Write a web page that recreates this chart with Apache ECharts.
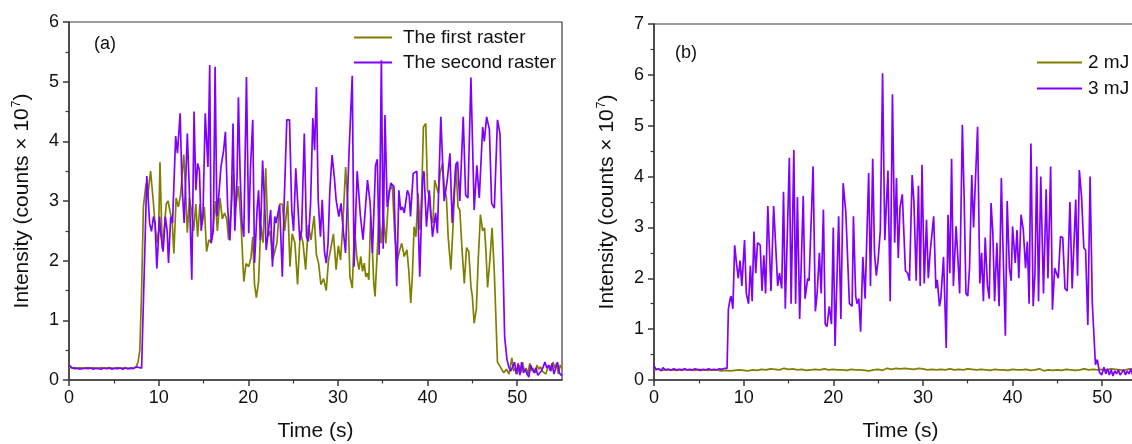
<!DOCTYPE html>
<html>
<head>
<meta charset="utf-8">
<script src="https://cdn.jsdelivr.net/npm/echarts@6/dist/echarts.min.js"></script>
<style>
html,body{margin:0;padding:0;background:#fff;}
#chart{width:1132px;height:444px;}
</style>
</head>
<body>
<div id="chart"></div>
<script>
// ---------- Data (time s, intensity ×1e7) ----------
const X_TICKS = [0, 10, 20, 30, 40, 50];
const X_MINOR = [5, 15, 25, 35, 45];
const LEGEND_A = ['The first raster', 'The second raster'];
const LEGEND_B = ['2 mJ', '3 mJ'];

const A_FIRST = [[0,0.22],[0.3,0.2],[0.6,0.21],[0.9,0.19],[1.2,0.21],[1.5,0.2],[1.8,0.2],[2.1,0.21],[2.4,0.2],[2.7,0.21],[3.0,0.19],[3.3,0.2],[3.6,0.21],[3.9,0.2],[4.2,0.2],[4.5,0.21],[4.8,0.2],[5.1,0.19],[5.4,0.21],[5.7,0.2],[6.0,0.2],[6.3,0.21],[6.6,0.19],[6.9,0.2],[7.2,0.2],[7.5,0.22],[7.7,0.3],[7.9,0.5],[8.1,1.5],[8.3,2.9],[8.6,3.3],[8.8,3.1],[9.1,3.5],[9.4,3.0],[9.6,2.6],[9.8,2.3],[10.0,2.5],[10.15,3.65],[10.4,2.2],[10.6,2.5],[10.85,2.95],[11.05,3.0],[11.3,2.8],[11.5,2.7],[11.7,2.12],[11.95,3.05],[12.2,2.9],[12.45,3.1],[12.8,3.78],[13.0,3.2],[13.2,2.47],[13.45,3.05],[13.7,2.8],[13.9,2.5],[14.15,2.95],[14.35,2.4],[14.6,2.95],[14.85,2.6],[15.1,2.9],[15.35,2.15],[15.6,2.35],[15.85,2.3],[16.1,2.6],[16.35,3.0],[16.55,2.5],[16.85,3.05],[17.1,2.7],[17.35,2.8],[17.6,2.7],[17.8,2.35],[18.05,2.8],[18.35,3.45],[18.6,2.9],[18.9,3.25],[19.2,2.6],[19.5,1.65],[19.75,1.95],[20.05,1.9],[20.3,2.05],[20.5,2.4],[20.7,1.6],[20.9,1.38],[21.15,1.65],[21.4,2.6],[21.65,2.3],[21.95,3.55],[22.2,2.4],[22.45,2.5],[22.7,2.0],[22.95,2.15],[23.2,2.3],[23.5,2.95],[23.8,2.95],[24.05,2.5],[24.4,3.0],[24.65,1.9],[24.9,2.45],[25.2,2.3],[25.5,1.6],[25.8,2.5],[26.1,2.3],[26.4,1.85],[26.7,2.6],[27.0,2.35],[27.35,2.75],[27.6,2.1],[27.85,1.95],[28.1,1.6],[28.4,1.7],[28.7,1.5],[28.95,2.0],[29.2,2.2],[29.5,2.45],[29.8,1.85],[30.05,2.25],[30.3,2.01],[30.55,2.6],[30.86,3.57],[31.1,2.96],[31.34,1.73],[31.6,1.54],[31.85,2.55],[32.1,2.07],[32.35,1.85],[32.55,2.07],[32.75,1.82],[32.95,1.96],[33.1,1.73],[33.28,1.79],[33.45,1.68],[33.65,2.74],[33.85,2.18],[34.0,1.62],[34.14,1.4],[34.4,2.18],[34.59,2.79],[34.8,2.29],[35.07,2.74],[35.35,2.29],[35.7,3.18],[36.08,3.24],[36.35,2.4],[36.64,2.01],[36.9,2.18],[37.12,2.29],[37.4,2.07],[37.7,2.18],[37.9,1.85],[38.13,1.29],[38.3,1.73],[38.5,2.57],[38.7,2.4],[38.95,3.13],[39.15,2.52],[39.35,3.13],[39.54,4.24],[39.8,4.3],[40.0,3.18],[40.2,3.07],[40.36,2.74],[40.6,2.63],[40.8,3.35],[41.0,3.38],[41.2,3.13],[41.4,3.46],[41.67,3.63],[41.9,3.18],[42.1,3.07],[42.3,2.4],[42.6,1.85],[42.85,2.6],[43.16,3.63],[43.4,2.9],[43.6,2.85],[43.85,2.18],[44.1,1.62],[44.35,2.22],[44.6,2.15],[44.85,1.55],[45.0,1.4],[45.2,0.95],[45.45,1.2],[45.65,2.0],[45.9,2.77],[46.15,2.5],[46.35,2.55],[46.5,2.2],[46.7,1.55],[46.95,2.0],[47.2,2.55],[47.45,1.8],[47.8,0.3],[48.0,0.25],[48.2,0.2],[48.5,0.12],[48.8,0.18],[49.1,0.1],[49.4,0.37],[49.6,0.15],[49.8,0.2],[50.0,0.1],[50.2,0.25],[50.4,0.12],[50.6,0.3],[50.8,0.15],[51.0,0.2],[51.2,0.1],[51.4,0.28],[51.6,0.15],[51.8,0.2],[52.0,0.12],[52.2,0.25],[52.4,0.18],[52.6,0.22],[52.8,0.15],[53.0,0.18],[53.2,0.1],[53.4,0.2],[53.6,0.25],[53.8,0.15],[54.0,0.3],[54.2,0.2],[54.4,0.28],[54.6,0.1],[54.8,0.25],[55,0.2]];

const A_SECOND = [[0,0.25],[0.3,0.21],[0.6,0.19],[0.9,0.2],[1.2,0.18],[1.5,0.19],[1.8,0.2],[2.1,0.19],[2.4,0.2],[2.7,0.18],[3.0,0.2],[3.3,0.19],[3.6,0.18],[3.9,0.2],[4.2,0.19],[4.5,0.2],[4.8,0.18],[5.1,0.2],[5.4,0.19],[5.7,0.2],[6.0,0.18],[6.3,0.2],[6.6,0.19],[6.9,0.2],[7.2,0.19],[7.5,0.22],[7.8,0.21],[8.1,0.2],[8.3,0.22],[8.5,2.4],[8.68,3.42],[9.0,2.62],[9.2,2.49],[9.43,2.74],[9.6,2.63],[9.8,1.87],[10.1,2.74],[10.25,2.43],[10.5,2.15],[10.75,2.74],[10.95,2.5],[11.1,1.96],[11.35,2.74],[11.55,2.63],[11.9,4.09],[12.1,3.8],[12.4,4.47],[12.6,3.29],[12.85,2.63],[13.2,4.13],[13.4,3.29],[13.7,1.68],[13.95,4.5],[14.15,3.18],[14.35,3.63],[14.55,3.52],[14.75,2.5],[14.95,2.79],[15.2,4.47],[15.5,3.57],[15.7,5.28],[15.85,2.29],[16.1,2.5],[16.3,5.25],[16.5,2.74],[16.7,3.07],[16.95,3.57],[17.25,3.85],[17.45,4.16],[17.7,2.9],[17.95,2.34],[18.1,2.9],[18.3,4.3],[18.5,2.5],[18.75,3.4],[18.9,4.74],[19.1,3.4],[19.3,2.63],[19.5,2.4],[19.8,5.08],[20.05,2.46],[20.25,3.57],[20.5,4.36],[20.7,1.96],[21.0,2.9],[21.15,3.18],[21.35,2.34],[21.6,3.68],[21.85,2.85],[22.0,2.18],[22.3,2.57],[22.5,2.85],[22.7,1.9],[22.95,2.74],[23.1,2.63],[23.3,2.79],[23.5,2.93],[23.8,1.73],[24.0,2.96],[24.3,4.36],[24.6,4.36],[24.85,2.85],[25.05,2.5],[25.3,3.55],[25.5,3.52],[25.75,2.34],[25.95,2.5],[26.25,4.13],[26.5,2.4],[26.7,2.32],[26.95,2.96],[27.2,4.39],[27.4,3.85],[27.6,4.91],[27.8,3.02],[28.05,2.4],[28.25,3.02],[28.5,2.15],[28.7,1.96],[28.9,2.29],[29.1,3.18],[29.35,3.77],[29.6,3.4],[29.8,3.02],[30.1,2.74],[30.35,2.96],[30.6,2.5],[30.85,2.13],[31.25,3.85],[31.6,5.1],[31.8,1.9],[32.15,3.5],[32.5,2.77],[32.8,2.35],[33.3,3.35],[33.6,2.96],[33.85,2.13],[34.2,3.6],[34.4,3.7],[34.6,2.1],[34.85,5.36],[35.05,2.2],[35.25,4.44],[35.5,2.9],[35.9,3.3],[36.25,3.24],[36.56,1.57],[36.8,3.18],[37.0,2.85],[37.2,2.9],[37.4,2.8],[37.75,3.18],[37.95,3.1],[38.1,2.74],[38.4,3.46],[38.8,3.5],[39.13,1.73],[39.45,3.38],[39.6,3.5],[39.88,2.57],[40.2,3.18],[40.55,2.4],[40.9,2.8],[41.1,2.46],[41.48,4.41],[41.85,3.0],[42.2,3.35],[42.5,3.8],[42.75,2.63],[43.15,3.6],[43.35,3.66],[43.6,3.0],[43.98,4.41],[44.25,3.1],[44.5,3.05],[44.84,5.07],[45.2,2.85],[45.5,3.6],[45.77,3.05],[46.15,4.24],[46.33,4.0],[46.59,4.41],[46.9,4.2],[47.15,2.96],[47.45,2.88],[47.8,4.36],[48.08,4.13],[48.38,2.2],[48.6,0.73],[48.85,0.35],[49.1,0.2],[49.3,0.15],[49.5,0.12],[49.7,0.3],[49.9,0.1],[50.1,0.28],[50.3,0.08],[50.5,0.3],[50.7,0.12],[50.9,0.18],[51.1,0.1],[51.3,0.05],[51.5,0.25],[51.7,0.18],[51.9,0.12],[52.1,0.2],[52.3,0.08],[52.5,0.05],[52.7,0.15],[52.9,0.22],[53.1,0.3],[53.3,0.2],[53.5,0.25],[53.7,0.15],[53.9,0.28],[54.1,0.1],[54.3,0.2],[54.5,0.3],[54.7,0.12],[54.9,0.08],[55,0.1]];

const B_2MJ = [[0,0.2],[0.5,0.22],[1,0.19],[1.5,0.21],[2,0.2],[2.5,0.19],[3,0.21],[3.5,0.2],[4,0.2],[4.5,0.19],[5,0.21],[5.5,0.2],[6,0.19],[6.5,0.2],[7,0.2],[7.5,0.18],[8,0.19],[8.5,0.18],[9,0.19],[9.5,0.2],[10,0.19],[10.5,0.18],[11,0.2],[11.5,0.19],[12,0.21],[12.5,0.2],[13,0.22],[13.5,0.21],[14,0.2],[14.5,0.23],[15,0.21],[15.5,0.22],[16,0.2],[16.5,0.21],[17,0.19],[17.5,0.2],[18,0.21],[18.5,0.2],[19,0.22],[19.5,0.2],[20,0.21],[20.5,0.2],[21,0.2],[21.5,0.19],[22,0.21],[22.5,0.2],[23,0.2],[23.5,0.19],[24,0.18],[24.5,0.2],[25,0.21],[25.5,0.19],[26,0.23],[26.5,0.21],[27,0.23],[27.5,0.22],[28,0.23],[28.5,0.22],[29,0.21],[29.5,0.23],[30,0.22],[30.5,0.2],[31,0.21],[31.5,0.2],[32,0.21],[32.5,0.2],[33,0.22],[33.5,0.2],[34,0.21],[34.5,0.2],[35,0.22],[35.5,0.21],[36,0.2],[36.5,0.21],[37,0.2],[37.5,0.19],[38,0.21],[38.5,0.2],[39,0.2],[39.5,0.19],[40,0.21],[40.5,0.2],[41,0.2],[41.5,0.21],[42,0.19],[42.5,0.2],[43,0.22],[43.5,0.18],[44,0.2],[44.5,0.19],[45,0.2],[45.5,0.19],[46,0.21],[46.5,0.2],[47,0.19],[47.5,0.2],[48,0.22],[48.5,0.2],[49,0.21],[49.5,0.2],[50,0.21],[50.5,0.2],[51,0.22],[51.5,0.21],[52,0.2],[52.5,0.19],[53,0.22],[53.5,0.2],[54,0.21],[54.5,0.2],[55,0.21]];

const B_3MJ = [[0,0.28],[0.25,0.2],[0.5,0.22],[0.8,0.18],[1.0,0.24],[1.3,0.2],[1.6,0.21],[1.9,0.19],[2.2,0.22],[2.5,0.2],[2.8,0.21],[3.1,0.19],[3.4,0.22],[3.7,0.2],[4.0,0.21],[4.3,0.2],[4.6,0.22],[4.9,0.2],[5.2,0.19],[5.5,0.21],[5.8,0.2],[6.1,0.22],[6.4,0.2],[6.7,0.21],[7.0,0.2],[7.3,0.22],[7.6,0.21],[7.9,0.23],[8.15,0.23],[8.3,1.4],[8.5,1.6],[8.6,1.65],[8.8,1.4],[9.0,2.65],[9.2,2.3],[9.4,2.0],[9.6,2.35],[9.8,1.85],[10.1,2.75],[10.3,1.7],[10.55,1.5],[10.75,2.25],[10.95,1.55],[11.15,2.92],[11.35,2.1],[11.55,2.7],[11.85,2.65],[12.05,1.75],[12.25,2.45],[12.45,1.7],[12.7,3.42],[13.05,1.75],[13.35,3.42],[13.6,2.55],[13.8,1.85],[14.0,2.1],[14.25,1.8],[14.45,3.7],[14.65,1.4],[15.1,4.37],[15.3,1.5],[15.6,4.52],[15.8,1.5],[16.0,3.6],[16.25,1.2],[16.65,3.62],[16.85,1.6],[17.15,2.0],[17.3,1.95],[17.75,4.2],[18.0,1.35],[18.2,1.7],[18.45,2.5],[18.65,1.7],[18.9,3.35],[19.1,1.1],[19.3,1.05],[19.55,1.45],[19.8,1.1],[20.0,3.0],[20.2,0.67],[20.6,3.22],[20.85,1.2],[21.1,3.87],[21.4,3.3],[21.8,1.5],[22.1,1.45],[22.25,3.22],[22.5,1.65],[22.65,1.5],[22.85,1.6],[23.05,0.95],[23.3,2.42],[23.55,1.6],[23.95,4.07],[24.15,1.85],[24.4,4.35],[24.6,2.5],[24.8,2.05],[25.0,2.35],[25.25,2.95],[25.5,6.03],[25.75,2.75],[26.1,4.12],[26.35,1.55],[26.6,5.62],[26.85,2.7],[27.05,3.97],[27.25,2.4],[27.45,3.4],[27.7,3.65],[28.05,2.15],[28.3,2.1],[28.5,1.95],[28.8,4.03],[29.0,3.5],[29.25,1.95],[29.5,3.82],[29.7,1.85],[29.9,4.23],[30.15,1.9],[30.4,3.15],[30.6,2.0],[30.8,2.5],[31.2,3.22],[31.45,1.8],[31.6,1.97],[31.85,1.45],[32.0,1.6],[32.3,2.42],[32.6,0.63],[32.8,3.25],[33.0,2.1],[33.2,4.35],[33.4,1.85],[33.7,3.02],[33.9,2.4],[34.1,1.7],[34.4,5.02],[34.6,3.6],[34.8,1.7],[35.0,1.65],[35.2,2.2],[35.45,4.03],[35.65,3.0],[36.1,4.98],[36.35,1.9],[36.55,2.5],[36.75,1.55],[36.95,2.8],[37.2,1.85],[37.4,1.6],[37.6,3.48],[37.8,2.9],[38.0,1.55],[38.25,2.7],[38.5,1.45],[38.75,3.97],[38.95,2.5],[39.2,0.87],[39.4,3.52],[39.65,2.2],[39.85,1.95],[40.0,3.02],[40.3,2.3],[40.5,2.95],[40.7,2.0],[40.95,3.25],[41.2,2.95],[41.45,2.2],[41.65,2.72],[41.85,1.5],[42.05,4.65],[42.3,1.45],[42.5,2.1],[42.7,4.2],[42.9,1.55],[43.15,4.0],[43.45,1.7],[43.75,3.75],[43.95,2.0],[44.25,4.2],[44.45,1.38],[44.7,2.2],[45.1,2.0],[45.35,2.82],[45.6,2.8],[45.85,1.8],[46.1,1.75],[46.4,3.5],[46.65,1.8],[47.05,3.55],[47.25,2.05],[47.45,4.13],[47.7,3.6],[47.95,2.6],[48.15,2.55],[48.4,1.08],[48.65,4.0],[48.9,1.5],[49.25,0.3],[49.45,0.4],[49.7,0.15],[49.95,0.1],[50.2,0.25],[50.4,0.12],[50.6,0.22],[50.8,0.1],[51.0,0.2],[51.2,0.08],[51.4,0.18],[51.6,0.12],[51.8,0.2],[52.0,0.1],[52.2,0.15],[52.4,0.2],[52.6,0.1],[52.8,0.18],[53.0,0.12],[53.2,0.22],[53.4,0.1],[53.6,0.2],[53.8,0.15],[54.0,0.25],[54.3,0.12],[54.6,0.2],[55,0.15]];

// ---------- Styles ----------
const FONT = "'Liberation Sans', Arial, sans-serif";
const AXIS_COLOR = '#3a3a3a';
const OLIVE = '#808000';
const PURPLE = '#8000ff';

function mainX(gridIndex) {
  return {
    type: 'value', gridIndex, min: 0, max: 55, position: 'bottom',
    name: 'Time (s)', nameLocation: 'middle', nameGap: 41,
    nameTextStyle: { fontFamily: FONT, fontSize: 21, color: '#111' },
    axisLine: { show: true, lineStyle: { color: AXIS_COLOR, width: 1.5 } },
    axisTick: { show: true, inside: false, length: 6, customValues: X_TICKS, lineStyle: { color: AXIS_COLOR, width: 1.5 } },
    axisLabel: { show: true, customValues: X_TICKS, margin: 9, fontFamily: FONT, fontSize: 18, color: '#111' },
    splitLine: { show: false }
  };
}
function minorX(gridIndex) {
  return {
    type: 'value', gridIndex, min: 0, max: 55, position: 'bottom',
    axisLine: { show: false },
    axisTick: { show: true, inside: false, length: 3.5, customValues: X_MINOR, lineStyle: { color: AXIS_COLOR, width: 1.2 } },
    axisLabel: { show: false },
    splitLine: { show: false }
  };
}
function mainY(gridIndex, max) {
  return {
    type: 'value', gridIndex, min: 0, max, interval: 1,
    name: '{a|Intensity (counts × 10}{s|7}{a|)}', nameLocation: 'middle', nameGap: 35,
    nameTextStyle: { fontFamily: FONT, fontSize: 21, color: '#111',
      rich: { a: { fontFamily: FONT, fontSize: 21, color: '#111' },
              s: { fontFamily: FONT, fontSize: 12, color: '#111', verticalAlign: 'bottom', padding: [0, 0, 11, 1] } } },
    axisLine: { show: true, lineStyle: { color: AXIS_COLOR, width: 1.5 } },
    axisTick: { show: true, inside: false, length: 6, lineStyle: { color: AXIS_COLOR, width: 1.5 } },
    minorTick: { show: true, splitNumber: 2, length: 3.5, lineStyle: { color: AXIS_COLOR, width: 1.2 } },
    axisLabel: { margin: 10, fontFamily: FONT, fontSize: 18, color: '#111' },
    splitLine: { show: false }, minorSplitLine: { show: false }
  };
}

const option = {
  backgroundColor: '#fff',
  animation: false,
  grid: [
    { left: 69, top: 22, width: 493, height: 358, show: true, borderColor: AXIS_COLOR, borderWidth: 1.2, outerBoundsMode: 'none' },
    { left: 654, top: 24, width: 493, height: 356, show: true, borderColor: AXIS_COLOR, borderWidth: 1.2, outerBoundsMode: 'none' }
  ],
  xAxis: [mainX(0), minorX(0), mainX(1), minorX(1)],
  yAxis: [mainY(0, 6), mainY(1, 7)],
  legend: [
    { data: LEGEND_A, orient: 'vertical', left: 354, top: 28, padding: 0, icon: 'rect', itemWidth: 38, itemHeight: 2, itemGap: 6,
      textStyle: { fontFamily: FONT, fontSize: 19, color: '#111', padding: [0, 0, 0, 6] } },
    { data: LEGEND_B, orient: 'vertical', left: 1037, top: 53, padding: 0, icon: 'rect', itemWidth: 45, itemHeight: 2, itemGap: 7,
      textStyle: { fontFamily: FONT, fontSize: 19, color: '#111', padding: [0, 0, 0, 1] } }
  ],
  graphic: [
    { type: 'text', left: 94, top: 35, style: { text: '(a)', font: '18px ' + FONT, fill: '#111' } },
    { type: 'text', left: 675, top: 44, style: { text: '(b)', font: '18px ' + FONT, fill: '#111' } }
  ],
  series: [
    { name: LEGEND_A[0], type: 'line', xAxisIndex: 0, yAxisIndex: 0, data: A_FIRST, symbol: 'none', clip: true,
      lineStyle: { color: OLIVE, width: 1.7 }, itemStyle: { color: OLIVE } },
    { name: LEGEND_A[1], type: 'line', xAxisIndex: 0, yAxisIndex: 0, data: A_SECOND, symbol: 'none', clip: true,
      lineStyle: { color: PURPLE, width: 1.7 }, itemStyle: { color: PURPLE } },
    { name: LEGEND_B[0], type: 'line', xAxisIndex: 2, yAxisIndex: 1, data: B_2MJ, symbol: 'none', clip: true,
      lineStyle: { color: OLIVE, width: 1.7 }, itemStyle: { color: OLIVE } },
    { name: LEGEND_B[1], type: 'line', xAxisIndex: 2, yAxisIndex: 1, data: B_3MJ, symbol: 'none', clip: true,
      lineStyle: { color: PURPLE, width: 1.7 }, itemStyle: { color: PURPLE } }
  ]
};

const chart = echarts.init(document.getElementById('chart'), null, { renderer: 'canvas' });
chart.setOption(option);
</script>
</body>
</html>
